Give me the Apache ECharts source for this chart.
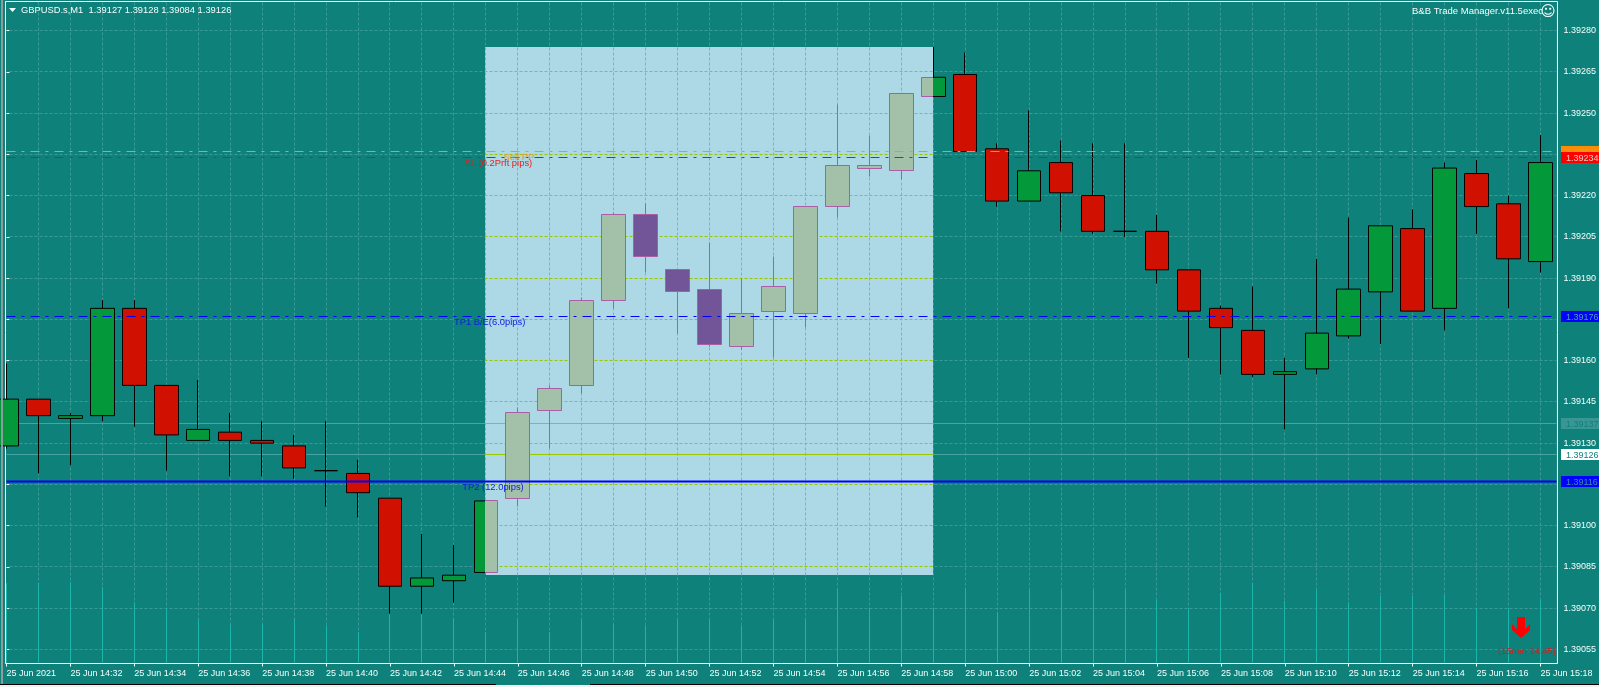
<!DOCTYPE html>
<html><head><meta charset="utf-8">
<style>html,body{margin:0;padding:0;background:#0f817b;overflow:hidden}#c{width:1599px;height:687px}</style>
<script src="https://cdn.jsdelivr.net/npm/echarts@6/dist/echarts.min.js"></script>
</head><body><div id="c"></div>
<script>
const opens  = [1.39129,1.39146,1.39139,1.39140,1.39179,1.39151,1.39131,1.39134,1.39131,1.39129,1.39120,1.39119,1.39110,1.39078,1.39080,1.39083,1.39110,1.39142,1.39151,1.39182,1.39213,1.39193,1.39186,1.39165,1.39178,1.39177,1.39216,1.39230,1.39229,1.39256,1.39264,1.39237,1.39218,1.39232,1.39220,1.39207,1.39207,1.39193,1.39179,1.39171,1.39155,1.39157,1.39169,1.39185,1.39208,1.39179,1.39228,1.39217,1.39196];
const closes = [1.39146,1.39140,1.39140,1.39179,1.39151,1.39133,1.39135,1.39131,1.39130,1.39121,1.39120,1.39112,1.39078,1.39081,1.39082,1.39109,1.39141,1.39150,1.39182,1.39213,1.39198,1.39185,1.39166,1.39177,1.39187,1.39216,1.39231,1.39231,1.39257,1.39263,1.39236,1.39218,1.39229,1.39221,1.39207,1.39207,1.39193,1.39178,1.39172,1.39155,1.39156,1.39170,1.39186,1.39209,1.39178,1.39230,1.39216,1.39197,1.39232];
const lows   = [1.39128,1.39119,1.39122,1.39138,1.39136,1.39120,1.39131,1.39118,1.39118,1.39117,1.39107,1.39103,1.39068,1.39068,1.39072,1.39082,1.39107,1.39128,1.39148,1.39179,1.39192,1.39170,1.39165,1.39164,1.39161,1.39172,1.39212,1.39227,1.39226,1.39256,1.39236,1.39216,1.39218,1.39207,1.39206,1.39205,1.39188,1.39161,1.39155,1.39154,1.39135,1.39155,1.39168,1.39166,1.39178,1.39171,1.39206,1.39179,1.39192];
const highs  = [1.39159,1.39146,1.39141,1.39182,1.39182,1.39151,1.39153,1.39141,1.39138,1.39133,1.39138,1.39124,1.39110,1.39097,1.39093,1.39109,1.39143,1.39151,1.39183,1.39214,1.39217,1.39193,1.39203,1.39190,1.39198,1.39216,1.39253,1.39242,1.39257,1.39274,1.39272,1.39239,1.39251,1.39240,1.39239,1.39239,1.39213,1.39193,1.39180,1.39187,1.39161,1.39197,1.39212,1.39209,1.39215,1.39232,1.39233,1.39220,1.39242];
const volumes = [81,81,82,77,62,56,44,39,40,45,38,32,49,49,45,32,44,32,44,39,38,44,44,38,44,44,75,56,68,56,76,52,74,74,74,74,64,56,71,81,63,74,62,68,68,69,56,56,64];
const tickLabels = ["25 Jun 2021","25 Jun 14:32","25 Jun 14:34","25 Jun 14:36","25 Jun 14:38","25 Jun 14:40","25 Jun 14:42","25 Jun 14:44","25 Jun 14:46","25 Jun 14:48","25 Jun 14:50","25 Jun 14:52","25 Jun 14:54","25 Jun 14:56","25 Jun 14:58","25 Jun 15:00","25 Jun 15:02","25 Jun 15:04","25 Jun 15:06","25 Jun 15:08","25 Jun 15:10","25 Jun 15:12","25 Jun 15:14","25 Jun 15:16","25 Jun 15:18"];
const tickBars = [0,2,4,6,8,10,12,14,16,18,20,22,24,26,28,30,32,34,36,38,40,42,44,46,48];
const priceTicks = [1.39280,1.39265,1.39250,1.39235,1.39220,1.39205,1.39190,1.39175,1.39160,1.39145,1.39130,1.39115,1.39100,1.39085,1.39070,1.39055];
const thinLevels = [1.39137,1.39126];
const orderLines = [
 {price:1.39236,color:'#e59a24',box:'#ff8c00',text:'#d9a040',width:1,dash:[9,6,3,6]},
 {price:1.39234,color:'#ff0000',box:'#ff0000',text:'#f0c8c0',width:1,dash:[9,6,3,6]},
 {price:1.39176,color:'#0000ff',box:'#0000ff',text:'#4a9fb0',width:1,dash:[9,6,3,6]},
 {price:1.39116,color:'#0000ff',box:'#0000ff',text:'#3a8fa8',width:2,dash:null}
];
const thinBoxes = [
 {price:1.39137,box:'#3a9692',text:'#0f817b'},
 {price:1.39126,box:'#ffffff',text:'#0f817b'}
];
const notes = [
 {text:'Sell PP',bar:15.55,price:1.39236,color:'#e59a24',over:'#e8a010'},
 {text:'SL (0.2Prft pips)',bar:14.33,price:1.39234,color:'#e81c1c',over:'#ff5f80'},
 {text:'TP1 B/E(6.0pips)',bar:14.0,price:1.39176,color:'#0a1ee0',over:'#3a66ff'},
 {text:'TP2 (12.0pips)',bar:14.26,price:1.39116,color:'#0a1ee0',over:'#3a66ff'}
];
const rangeStart = 15, rangeEnd = 29;

const TEAL='#0f817b', FONT='"Liberation Sans", Arial, sans-serif', TXT='#f4fffc';
const allBars = opens.map((_, i) => i);
const ohlc = allBars.map(i => [i, opens[i], closes[i], lows[i], highs[i]]);
const crisp = v => Math.floor(v) + 0.5;
const chart = echarts.init(document.getElementById('c'), null, {renderer:'canvas', width:1599, height:687});

function rangeClip(api){
  const a = api.coord([rangeStart, highs[rangeEnd]]), b = api.coord([rangeEnd, lows[rangeStart]]);
  const x0 = Math.floor(a[0]), x1 = Math.floor(b[0]);
  return {x:x0, y:Math.round(a[1]), width:x1-x0, height:Math.round(b[1])-Math.round(a[1])};
}
function gridSeries(color, z, clipped){
  const rows = allBars.map(i => [0, i]).concat(priceTicks.map(p => [1, p]));
  return {type:'custom', z, silent:true, data:rows, encode:{x:-1,y:-1},
    renderItem(params, api){
      const cs = params.coordSys, kind = api.value(0), v = api.value(1);
      let shape;
      if (kind === 0){ if (v === 0) return; const x = crisp(api.coord([v, priceTicks[0]])[0]); shape = {x1:x,y1:cs.y+1,x2:x,y2:cs.y+cs.height-1}; }
      else { const y = crisp(api.coord([0, v])[1]); shape = {x1:cs.x+4,y1:y,x2:cs.x+cs.width-1,y2:y}; }
      const el = {type:'line', shape, style:{stroke:color,lineWidth:1,lineDash:[3,2],fill:null}};
      if (clipped) el.clipPath = {type:'rect', shape:rangeClip(api)};
      return el;
    }};
}
function thinSeries(color, z, clipped){
  return {type:'custom', z, silent:true, data:thinLevels.map(p=>[p]), encode:{x:-1,y:0},
    renderItem(params, api){
      const cs = params.coordSys, y = crisp(api.coord([0, api.value(0)])[1]);
      const el = {type:'line', shape:{x1:cs.x+1,y1:y,x2:cs.x+cs.width-1,y2:y}, style:{stroke:color,lineWidth:1,fill:null}};
      if (clipped) el.clipPath = {type:'rect', shape:rangeClip(api)};
      return el;
    }};
}
function priceBox(y, box, txt, price){
  const c = crisp(y);
  return [
    {type:'rect', shape:{x:1561,y:c-5.5,width:38,height:11}, style:{fill:box}},
    {type:'text', x:1566, y:c+1, style:{text:price.toFixed(5), fill:txt, font:'9px '+FONT, textVerticalAlign:'middle', textAlign:'left'}}
  ];
}
function noteSeries(key, z, clipped){
  return {type:'custom', z, silent:true, data:notes.map((n,i)=>[i]), encode:{x:-1,y:-1},
    renderItem(params, api){
      const n = notes[api.value(0)], p = api.coord([n.bar, n.price]);
      const el = {type:'text', x:p[0], y:crisp(p[1])+5.5, style:{text:n.text, fill:n[key], font:'9.4px '+FONT, textVerticalAlign:'middle', textAlign:'left'}};
      if (clipped) el.clipPath = {type:'rect', shape:rangeClip(api)};
      return el;
    }};
}

chart.setOption({
  animation:false,
  backgroundColor:TEAL,
  grid:{left:5.5, top:1.5, width:1554, height:662, show:true, backgroundColor:TEAL, borderColor:'#ffffff', borderWidth:1},
  xAxis:{type:'value', min:-0.03125, max:48.53125, splitLine:{show:false}, axisLine:{show:false},
    axisTick:{show:true, length:3, customValues:tickBars, lineStyle:{color:'#ffffff'}},
    axisLabel:{customValues:tickBars, margin:6, align:'left', color:TXT, fontFamily:FONT, fontSize:9,
      formatter:v => tickLabels[Math.round(v/2)]}},
  yAxis:[
   {type:'value', position:'right', min:1.3904991, max:1.3929054, scale:true, splitLine:{show:false}, axisLine:{show:false},
    axisTick:{show:true, length:3, customValues:priceTicks, lineStyle:{color:'#ffffff'}},
    axisLabel:{customValues:priceTicks, margin:6, padding:[2,0,0,0], color:TXT, fontFamily:FONT, fontSize:9, formatter:v => v.toFixed(5)}},
   {type:'value', show:false, min:0, max:662, splitLine:{show:false}}
  ],
  graphic:[
    {type:'rect', z:100, shape:{x:1,y:0,width:2,height:684}, style:{fill:'#8f9a9a'}},
    {type:'rect', z:100, shape:{x:0,y:684,width:496,height:1}, style:{fill:'#000'}},
    {type:'rect', z:100, shape:{x:590,y:684,width:1009,height:1}, style:{fill:'#000'}},
    {type:'rect', z:100, shape:{x:0,y:685,width:1599,height:2}, style:{fill:'#f0f0f0'}},
    {type:'polygon', z:100, shape:{points:[[9,8],[16,8],[12.5,12]]}, style:{fill:'#ffffff'}},
    {type:'text', z:100, x:21, y:10, style:{text:'GBPUSD.s,M1  1.39127 1.39128 1.39084 1.39126', fill:TXT, font:'9.35px '+FONT, textVerticalAlign:'middle'}},
    {type:'text', z:100, x:1412, y:11, style:{text:'B&B Trade Manager.v11.5exec', fill:TXT, font:'9.5px '+FONT, textVerticalAlign:'middle'}},
    {type:'text', z:100, x:1548, y:12, style:{text:'\u263A', fill:TXT, font:'15px "DejaVu Sans"', textVerticalAlign:'middle', textAlign:'center'}},
    {type:'polygon', z:100, shape:{points:[[1517,617],[1525,617],[1525,629],[1530,624],[1530,630],[1521,638],[1512,630],[1512,624],[1517,629]]}, style:{fill:'#ff0000'}},
    {type:'text', z:100, x:1498, y:651, style:{text:'(15min 14:45)', fill:'#d81c1c', font:'9.4px '+FONT, textVerticalAlign:'middle'}}
  ],
  series:[
    gridSeries('#3a9a95', 1, false),
    thinSeries('#4aa39e', 2, false),
    {type:'custom', z:2, silent:true, data:thinBoxes.map((b,i)=>[i]), encode:{x:-1,y:-1}, clip:false,
      renderItem(params, api){ const b = thinBoxes[api.value(0)]; return {type:'group', children:priceBox(api.coord([0,b.price])[1], b.box, b.text, b.price)}; }},
    {type:'custom', z:3, yAxisIndex:1, silent:true, data:allBars.map(i=>[i,volumes[i]]), encode:{x:0,y:1},
      renderItem(params, api){
        const x = crisp(api.coord([api.value(0), 0])[0]), top = api.coord([0, api.value(1)])[1], base = api.coord([0, 0])[1];
        return {type:'line', shape:{x1:x,y1:Math.round(top),x2:x,y2:base-1}, style:{stroke:'#1cb5aa',lineWidth:1,fill:null}};
      }},
    {type:'candlestick', z:4, silent:true, barWidth:24, data:ohlc, encode:{x:0,y:[1,2,3,4]},
      itemStyle:{color:'#03993a', color0:'#d01000', borderColor:'#000', borderColor0:'#000', borderColorDoji:'#000', borderWidth:1}},
    {type:'custom', z:5, silent:true, data:[[rangeStart]], encode:{x:0,y:-1},
      renderItem(params, api){ return {type:'rect', shape:rangeClip(api), style:{fill:'#add8e6'}}; }},
    gridSeries('#9ac800', 6, true),
    thinSeries('#9ac800', 6, true),
    {type:'custom', z:7, silent:true, data:ohlc, encode:{x:0,y:[1,2,3,4]},
      renderItem(params, api){
        const i = api.value(0);
        if (i < rangeStart || i > rangeEnd) return;
        const x = crisp(api.coord([i, 0])[0]);
        const yO = crisp(api.coord([i, api.value(1)])[1]), yC = crisp(api.coord([i, api.value(2)])[1]);
        const yL = crisp(api.coord([i, api.value(3)])[1]), yH = crisp(api.coord([i, api.value(4)])[1]);
        const top = Math.min(yO,yC), bot = Math.max(yO,yC), up = api.value(2) >= api.value(1);
        const clip = () => ({type:'rect', shape:rangeClip(api)});
        const wick = '#a95ea6';
        return {type:'group', children:[
          {type:'line', clipPath:clip(), shape:{x1:x,y1:yH,x2:x,y2:top}, style:{stroke:wick,lineWidth:1}},
          {type:'line', clipPath:clip(), shape:{x1:x,y1:bot,x2:x,y2:yL}, style:{stroke:wick,lineWidth:1}},
          {type:'rect', clipPath:clip(), shape:{x:x-12,y:top,width:24,height:bot-top}, style:{fill:up?'#a2c1a8':'#725598',stroke:wick,lineWidth:1}}
        ]};
      }},
    {type:'custom', z:8, silent:true, data:orderLines.map((l,i)=>[i]), encode:{x:-1,y:-1},
      renderItem(params, api){
        const l = orderLines[api.value(0)], cs = params.coordSys, y = api.coord([0,l.price])[1], c = crisp(y);
        return {type:'group', children:[
          {type:'line', shape:{x1:cs.x+1,y1:c,x2:cs.x+cs.width-1,y2:c}, style:{stroke:l.color,lineWidth:l.width,lineDash:l.dash||'solid',fill:null}}
        ].concat(priceBox(y,l.box,l.text,l.price))};
      }},
    noteSeries('color', 9, false),
    noteSeries('over', 10, true)
  ]
});
</script></body></html>
